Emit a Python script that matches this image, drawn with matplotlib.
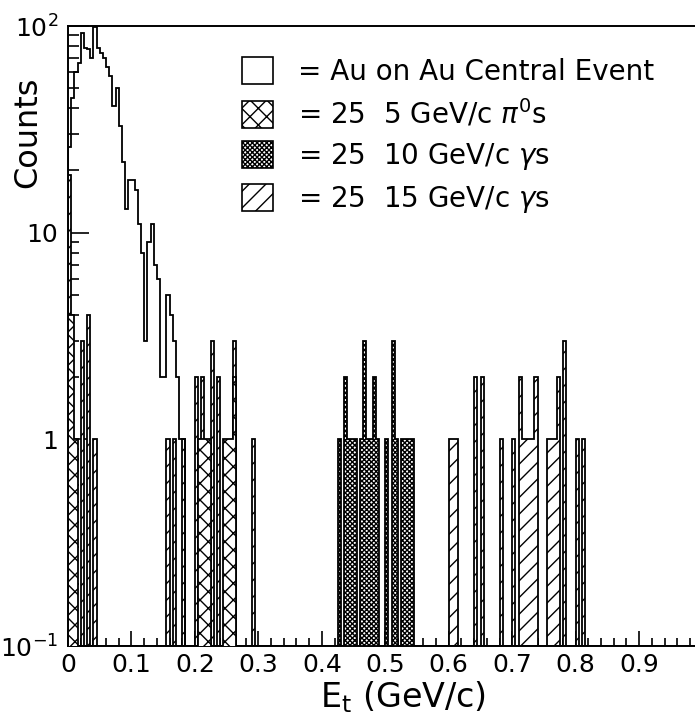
"""Et spectrum of an Au on Au central event with 25-particle overlays."""

import numpy as np
import matplotlib

matplotlib.use("Agg")
import matplotlib.pyplot as plt
from matplotlib.patches import Patch

BIN = 0.005

# Au on Au central event: step histogram starting at Et = 0
au_counts = [26, 45, 60, 66, 92, 78, 77, 70, 99, 78, 74, 70, 63, 57, 41, 50,
             33, 22, 13, 18, 18, 16, 11, 8, 3, 9, 11, 7, 6, 2, 2, 5, 4, 3,
             2, 1, 1]

# 25 x 5 GeV/c pi0s: bin left edges and counts
pi0_left = [0.000, 0.005, 0.010, 0.205, 0.210, 0.215, 0.220,
            0.245, 0.250, 0.255, 0.260]
pi0_counts = [4, 4, 1, 1, 1, 1, 1, 1, 1, 1, 2]

# 25 x 10 GeV/c gammas
g10_left = [0.425, 0.435, 0.440, 0.445, 0.450, 0.460, 0.465, 0.470, 0.475,
            0.480, 0.485, 0.500, 0.510, 0.515, 0.525, 0.530, 0.535, 0.540]
g10_counts = [1, 2, 1, 1, 1, 1, 3, 1, 1, 2, 1, 1, 3, 1, 1, 1, 1, 1]

# 25 x 15 GeV/c gammas
g15_left = [0.000, 0.020, 0.030, 0.040, 0.155, 0.165, 0.180, 0.200, 0.210,
            0.225, 0.235, 0.260, 0.290, 0.600, 0.605, 0.610, 0.640, 0.650,
            0.680, 0.700, 0.710, 0.715, 0.720, 0.725, 0.730, 0.735, 0.755,
            0.760, 0.765, 0.770, 0.780, 0.800, 0.810]
g15_counts = [19, 3, 4, 1, 1, 1, 1, 2, 2, 3, 2, 3, 1, 1, 1, 1, 2, 2,
              1, 1, 2, 1, 1, 1, 1, 2, 1, 1, 1, 2, 3, 1, 1]

legend_labels = ["= Au on Au Central Event",
                 r"= 25  5 GeV/c $\pi^0$s",
                 r"= 25  10 GeV/c $\gamma$s",
                 r"= 25  15 GeV/c $\gamma$s"]

x_ticks = [0, 0.1, 0.2, 0.3, 0.4, 0.5, 0.6, 0.7, 0.8, 0.9]
x_tick_labels = ["0", "0.1", "0.2", "0.3", "0.4", "0.5", "0.6", "0.7", "0.8", "0.9"]
y_ticks = [0.1, 1, 10, 100]
y_tick_labels = [r"$10^{-1}$", "1", "10", r"$10^{2}$"]

Y_MIN = 0.1
N_BINS = 200

plt.rcParams["font.family"] = ["DejaVu Sans"]
plt.rcParams["mathtext.fontset"] = "dejavusans"
plt.rcParams["hatch.linewidth"] = 1.0


def to_grid(lefts, counts):
    """Spread sparse (left edge, count) pairs onto the full 0..1 bin grid."""
    grid = np.zeros(N_BINS)
    for left, count in zip(lefts, counts):
        grid[int(round(left / BIN))] = count
    return grid


def draw_hatched(ax, lefts, counts, hatch, zorder):
    values = to_grid(lefts, counts)
    edges = np.arange(N_BINS + 1) * BIN
    # empty bins sit on the baseline so each run is one outlined block
    values = np.where(values > 0, values, Y_MIN)
    ax.stairs(values, edges, baseline=Y_MIN, fill=True, facecolor="white",
              edgecolor="black", hatch=hatch, linewidth=1.3, zorder=zorder)


fig = plt.figure(figsize=(6.95, 7.15), dpi=100)
ax = fig.add_axes([68 / 695, 69 / 715, 627 / 695, 620 / 715])
ax.set_yscale("log")

draw_hatched(ax, g15_left, g15_counts, "//", 2)
draw_hatched(ax, g10_left, g10_counts, "xxxxxxx", 3)
draw_hatched(ax, pi0_left, pi0_counts, "xx", 4)

au_edges = np.arange(len(au_counts) + 1) * BIN
ax.stairs(au_counts, au_edges, baseline=Y_MIN, fill=False, color="black",
          linewidth=1.3, zorder=5)

ax.set_xlim(0, 0.988)
ax.set_ylim(Y_MIN, 100)

ax.set_xticks(x_ticks)
ax.set_xticklabels(x_tick_labels)
ax.set_xticks(np.arange(0, 0.99, 0.02), minor=True)
ax.set_yticks(y_ticks)
ax.set_yticklabels(y_tick_labels)
ax.tick_params(axis="both", which="both", direction="in", width=1.2,
               colors="black")
ax.tick_params(axis="x", which="major", length=11, pad=5, labelsize=18)
ax.tick_params(axis="x", which="minor", length=6)
ax.tick_params(axis="y", which="major", length=15, pad=7, labelsize=18)
ax.tick_params(axis="y", which="minor", length=8)
ax.spines["right"].set_visible(False)
for side in ("left", "bottom", "top"):
    ax.spines[side].set_linewidth(1.4)

fig.text(28 / 695, 1 - 132 / 715, "Counts", rotation=90, ha="center",
         va="center", fontsize=23)
fig.text(403 / 695, 1 - 697 / 715, r"E$_\mathrm{t}$ (GeV/c)", ha="center",
         va="center", fontsize=24)

handles = [Patch(facecolor="white", edgecolor="black", linewidth=1.2),
           Patch(facecolor="white", edgecolor="black", hatch="xx", linewidth=1.2),
           Patch(facecolor="white", edgecolor="black", hatch="xxxxxxx", linewidth=1.2),
           Patch(facecolor="white", edgecolor="black", hatch="//", linewidth=1.2)]
ax.legend(handles, legend_labels, loc="upper left",
          bbox_to_anchor=((242 - 68) / 627, (646 - 57) / 620),
          frameon=False, fontsize=20, handlelength=1.12, handleheight=1.12,
          handletextpad=0.9, labelspacing=0.42, borderpad=0, borderaxespad=0)

fig.savefig("out.png", dpi=100)
